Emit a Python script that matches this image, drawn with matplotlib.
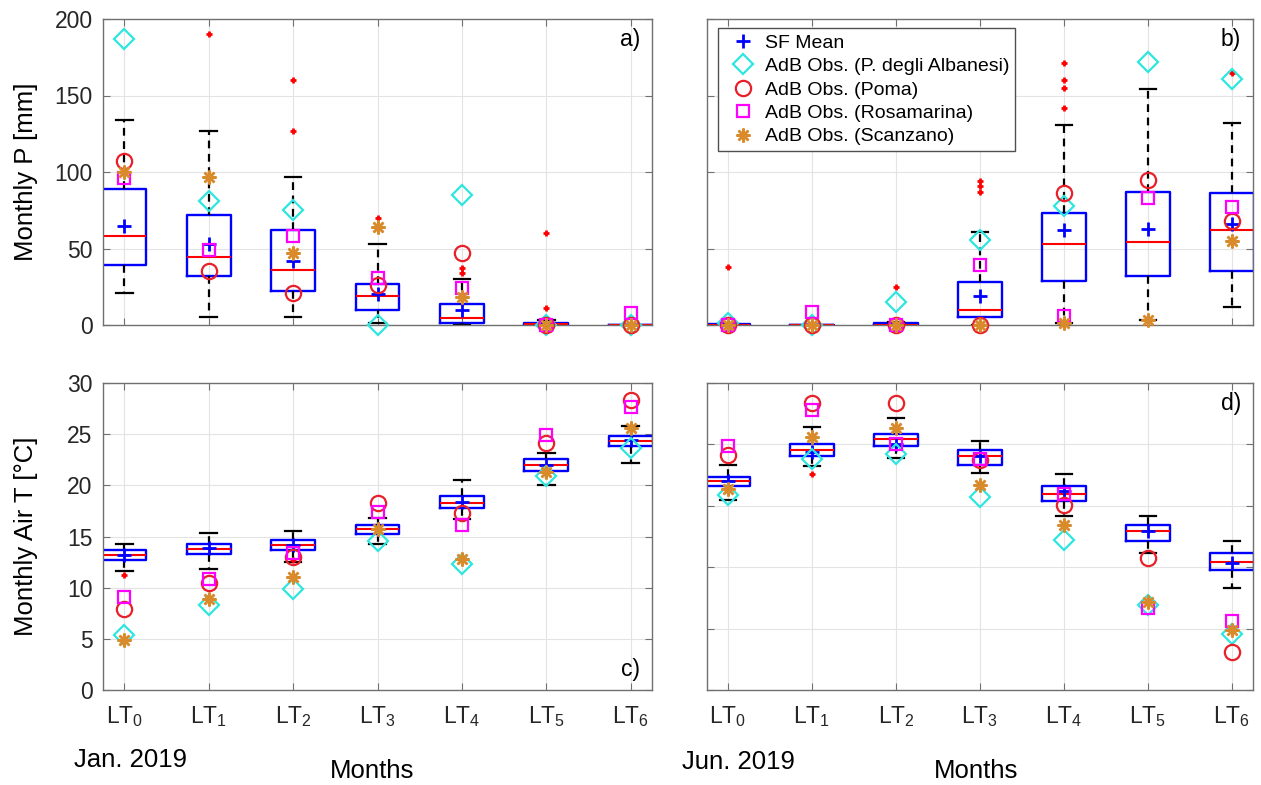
import matplotlib
matplotlib.use("Agg")
import matplotlib.pyplot as plt
import numpy as np

plt.rcParams["font.family"] = ["Liberation Sans", "DejaVu Sans"]
plt.rcParams["mathtext.default"] = "regular"

lead_times = ["LT$_{%d}$" % i for i in range(7)]
positions = np.arange(7)

# a) monthly precipitation, start Jan. 2019
p_jan_wlo = [21, 5, 5, 1, 0, 0, 0]
p_jan_q1 = [39, 32, 22, 10, 1.3, 0, 0]
p_jan_med = [58, 44.5, 36, 19, 4.4, 0.5, 0]
p_jan_q3 = [89, 72, 62, 27, 14, 1.5, 0]
p_jan_whi = [134, 127, 97, 53, 30, 3, 0]
p_jan_mean = [65, 53, 42, 20, 10, 1.5, 0.2]
p_jan_out = [[], [190], [160, 127], [70], [34, 37], [60, 11], []]
p_jan_alb = [187, 81, 75, 0, 85, 0, 0]
p_jan_poma = [107, 35, 21, 26, 47, 0, 0]
p_jan_rosa = [96, 49, 58, 30.5, 24, 0, 8]
p_jan_scan = [100, 97, 47, 64, 18.5, 0, 0]

# b) monthly precipitation, start Jun. 2019
p_jun_wlo = [0, 0, 0, 0, 1, 3, 12]
p_jun_q1 = [0, 0, 0, 5, 29, 32, 35]
p_jun_med = [0, 0, 0, 10, 53, 54, 62]
p_jun_q3 = [0.5, 0, 1, 28, 73, 87, 86]
p_jun_whi = [1, 0, 2, 61, 131, 154, 132]
p_jun_mean = [0.5, 0.2, 0.5, 19, 62, 63, 66]
p_jun_out = [[38], [], [25], [94, 91, 87], [171, 160, 155, 142], [], [165]]
p_jun_alb = [1, 0, 15, 55.5, 78, 172, 161]
p_jun_poma = [0, 0, 0, 0, 86, 95, 68]
p_jun_rosa = [0, 8.5, 0, 39, 6, 83, 77]
p_jun_scan = [0, 0, 0, 0, 1, 3, 55]

# c) monthly air temperature, start Jan. 2019
t_jan_wlo = [11.6, 11.8, 12.5, 14.3, 16.7, 20.0, 22.2]
t_jan_q1 = [12.7, 13.3, 13.7, 15.2, 17.8, 21.4, 23.8]
t_jan_med = [13.2, 13.8, 14.2, 15.7, 18.3, 22.0, 24.3]
t_jan_q3 = [13.7, 14.3, 14.7, 16.1, 19.0, 22.6, 24.8]
t_jan_whi = [14.3, 15.3, 15.5, 16.8, 20.5, 23.2, 25.8]
t_jan_mean = [13.2, 13.9, 14.2, 15.7, 18.4, 22.0, 24.4]
t_jan_out = [[11.2], [], [12.7], [], [], [], []]
t_jan_alb = [5.4, 8.3, 9.9, 14.6, 12.3, 20.9, 23.6]
t_jan_poma = [7.9, 10.5, 13.0, 18.3, 17.3, 24.1, 28.3]
t_jan_rosa = [9.1, 10.8, 13.4, 17.4, 16.1, 24.9, 27.7]
t_jan_scan = [4.9, 8.9, 11.0, 15.7, 12.8, 21.3, 25.6]

# d) monthly air temperature, start Jun. 2019
t_jun_wlo = [18.6, 21.9, 22.7, 21.2, 17.0, 13.4, 10.0]
t_jun_q1 = [19.9, 22.9, 23.8, 22.0, 18.5, 14.6, 11.7]
t_jun_med = [20.4, 23.5, 24.5, 22.9, 19.2, 15.5, 12.5]
t_jun_q3 = [20.8, 24.0, 25.0, 23.5, 19.9, 16.1, 13.4]
t_jun_whi = [22.0, 25.7, 26.6, 24.3, 21.1, 17.0, 14.6]
t_jun_mean = [20.4, 23.3, 24.0, 22.9, 19.4, 15.5, 12.4]
t_jun_out = [[], [21.1], [], [], [], [], []]
t_jun_alb = [19.1, 22.6, 23.1, 18.9, 14.7, 8.3, 5.5]
t_jun_poma = [23.0, 28.0, 28.0, 22.5, 18.1, 12.9, 3.7]
t_jun_rosa = [23.8, 27.4, 24.0, 22.6, 19.2, 8.0, 6.7]
t_jun_scan = [19.6, 24.7, 25.6, 20.0, 16.1, 8.6, 5.9]

station_labels = ["AdB Obs. (P. degli Albanesi)", "AdB Obs. (Poma)",
                  "AdB Obs. (Rosamarina)", "AdB Obs. (Scanzano)"]

CYAN = "#2ee6e0"
RED = "#e8202a"
MAGENTA = "#ff00ff"
ORANGE = "#d98a2b"
AXCOL = "#707070"
FS = 16.5
LFS = 18.5


def make_stats(wlo, q1, med, q3, whi, mean, out):
    stats = []
    for i in range(len(med)):
        stats.append(dict(whislo=wlo[i], q1=q1[i], med=med[i], q3=q3[i],
                          whishi=whi[i], mean=mean[i], fliers=out[i]))
    return stats


def draw_panel(ax, stats, alb, poma, rosa, scan):
    bp = ax.bxp(stats, positions=positions, widths=0.52, capwidths=0.2,
                showmeans=True, manage_ticks=False,
                boxprops=dict(color="blue", lw=1.7),
                medianprops=dict(color="red", lw=1.5),
                whiskerprops=dict(color="black", ls=(0, (3.5, 2.5)), lw=1.6),
                capprops=dict(color="black", lw=1.6),
                flierprops=dict(marker="+", markeredgecolor="red",
                                markersize=5, mew=2),
                meanprops=dict(marker="+", markeredgecolor="blue",
                               markersize=10, mew=2))
    h1, = ax.plot(positions, alb, "D", ls="none", mfc="none", mec=CYAN,
                  ms=10, mew=1.6, clip_on=False, zorder=4)
    h2, = ax.plot(positions, poma, "o", ls="none", mfc="none", mec=RED,
                  ms=11, mew=1.6, clip_on=False, zorder=4)
    h3, = ax.plot(positions, rosa, "s", ls="none", mfc="none", mec=MAGENTA,
                  ms=8, mew=1.6, clip_on=False, zorder=4)
    h4, = ax.plot(positions, scan, marker=(8, 2, 0), ls="none", mec=ORANGE,
                  ms=10, mew=1.8, clip_on=False, zorder=4)
    ax.set_xlim(-0.25, 6.25)
    ax.set_xticks(positions)
    ax.grid(True, color="#e3e3e3", lw=0.8)
    ax.set_axisbelow(True)
    ax.tick_params(direction="in", length=5, top=True, right=True,
                   color=AXCOL, labelsize=FS, labelcolor="#262626")
    ax.tick_params(axis="y", pad=7.5)
    ax.tick_params(axis="x", pad=10)
    for s in ax.spines.values():
        s.set_color(AXCOL)
        s.set_linewidth(1.0)
    return [bp["means"][0], h1, h2, h3, h4]


fig = plt.figure(figsize=(12.61, 7.85), dpi=100)
W, H = 1261.0, 785.0


def add_axes(l, t, r, b):
    return fig.add_axes([l / W, 1 - b / H, (r - l) / W, (b - t) / H])


ax_a = add_axes(103, 19, 652, 325)
ax_b = add_axes(707, 19, 1253, 325)
ax_c = add_axes(103, 383, 652, 690)
ax_d = add_axes(707, 383, 1253, 690)

draw_panel(ax_a, make_stats(p_jan_wlo, p_jan_q1, p_jan_med, p_jan_q3, p_jan_whi,
                            p_jan_mean, p_jan_out),
           p_jan_alb, p_jan_poma, p_jan_rosa, p_jan_scan)
handles = draw_panel(ax_b, make_stats(p_jun_wlo, p_jun_q1, p_jun_med, p_jun_q3,
                                      p_jun_whi, p_jun_mean, p_jun_out),
                     p_jun_alb, p_jun_poma, p_jun_rosa, p_jun_scan)
draw_panel(ax_c, make_stats(t_jan_wlo, t_jan_q1, t_jan_med, t_jan_q3, t_jan_whi,
                            t_jan_mean, t_jan_out),
           t_jan_alb, t_jan_poma, t_jan_rosa, t_jan_scan)
draw_panel(ax_d, make_stats(t_jun_wlo, t_jun_q1, t_jun_med, t_jun_q3, t_jun_whi,
                            t_jun_mean, t_jun_out),
           t_jun_alb, t_jun_poma, t_jun_rosa, t_jun_scan)

for ax in (ax_a, ax_b):
    ax.set_ylim(0, 200)
    ax.set_yticks([0, 50, 100, 150, 200])
    ax.tick_params(labelbottom=False)
ax_c.set_ylim(0, 30)
ax_c.set_yticks([0, 5, 10, 15, 20, 25, 30])
ax_d.set_ylim(0, 30)
ax_d.set_yticks([0, 6, 12, 18, 24, 30])
for ax in (ax_b, ax_d):
    ax.tick_params(labelleft=False)
for ax in (ax_c, ax_d):
    ax.set_xticklabels(lead_times)

ax_a.set_ylabel("Monthly P [mm]", fontsize=LFS)
ax_a.yaxis.set_label_coords(-0.118, 0.5)
ax_c.set_ylabel("Monthly Air T [°C]", fontsize=LFS)
ax_c.yaxis.set_label_coords(-0.118, 0.5)

ax_a.text(0.978, 0.97, "a)", transform=ax_a.transAxes, ha="right", va="top", fontsize=FS)
ax_b.text(0.978, 0.97, "b)", transform=ax_b.transAxes, ha="right", va="top", fontsize=FS)
ax_c.text(0.978, 0.03, "c)", transform=ax_c.transAxes, ha="right", va="bottom", fontsize=FS)
ax_d.text(0.978, 0.97, "d)", transform=ax_d.transAxes, ha="right", va="top", fontsize=FS)

fig.text(130 / W, 1 - 760 / H, "Jan. 2019", ha="center", va="center", fontsize=LFS)
fig.text(372 / W, 1 - 771 / H, "Months", ha="center", va="center", fontsize=LFS)
fig.text(738 / W, 1 - 762 / H, "Jun. 2019", ha="center", va="center", fontsize=LFS)
fig.text(976 / W, 1 - 771 / H, "Months", ha="center", va="center", fontsize=LFS)

leg = ax_b.legend(handles, ["SF Mean"] + station_labels, loc="upper left",
                  bbox_to_anchor=(0.02, 0.97), fontsize=14, frameon=True,
                  fancybox=False, edgecolor="#505050", framealpha=1,
                  borderpad=0.3, labelspacing=0.3, handletextpad=0.1,
                  handlelength=2.0, borderaxespad=0)
leg.get_frame().set_linewidth(1.0)

fig.savefig("out.png", dpi=100)
